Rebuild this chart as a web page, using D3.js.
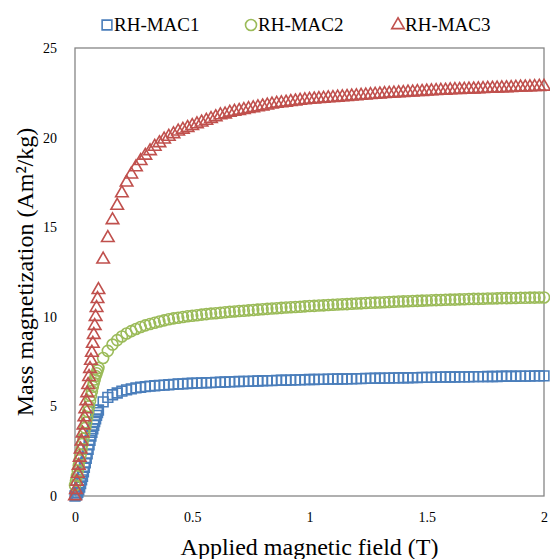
<!DOCTYPE html>
<html>
<head>
<meta charset="utf-8">
<script src="https://cdn.jsdelivr.net/npm/d3@7"></script>
<style>
  body { margin: 0; background: #fff; }
</style>
</head>
<body>
<div class="container"></div>
<script>
// applied field (T), shared by all three samples
var field = [
  0, 0.004, 0.008, 0.012, 0.016, 0.02, 0.024, 0.028, 0.032, 0.036, 0.04, 0.044, 0.048,
  0.052, 0.056, 0.06, 0.064, 0.068, 0.072, 0.076, 0.08, 0.084, 0.088, 0.092, 0.096, 0.1,
  0.12, 0.14, 0.16, 0.18, 0.2, 0.22, 0.24, 0.26, 0.28, 0.3,
  0.32, 0.34, 0.36, 0.38, 0.4, 0.42, 0.44, 0.46, 0.48, 0.5,
  0.52, 0.54, 0.56, 0.58, 0.6, 0.62, 0.64, 0.66, 0.68, 0.7,
  0.72, 0.74, 0.76, 0.78, 0.8, 0.82, 0.84, 0.86, 0.88, 0.9,
  0.92, 0.94, 0.96, 0.98, 1.0,
  1.02, 1.04, 1.06, 1.08, 1.1, 1.12, 1.14, 1.16, 1.18, 1.2,
  1.22, 1.24, 1.26, 1.28, 1.3, 1.32, 1.34, 1.36, 1.38, 1.4,
  1.42, 1.44, 1.46, 1.48, 1.5, 1.52, 1.54, 1.56, 1.58, 1.6,
  1.62, 1.64, 1.66, 1.68, 1.7, 1.72, 1.74, 1.76, 1.78, 1.8,
  1.82, 1.84, 1.86, 1.88, 1.9, 1.92, 1.94, 1.96, 1.98, 2.0
];

var mac1 = [
  0, 0.05, 0.1, 0.2, 0.35, 0.5, 0.7, 0.9, 1.1, 1.35, 1.6, 1.85, 2.1,
  2.35, 2.6, 2.85, 3.1, 3.35, 3.55, 3.75, 3.95, 4.15, 4.3, 4.5, 4.65, 4.8,
  5.25, 5.5, 5.65, 5.75, 5.85, 5.92, 5.98, 6.03, 6.07, 6.1,
  6.13, 6.15, 6.17, 6.19, 6.21, 6.23, 6.25, 6.26, 6.28, 6.29,
  6.3, 6.31, 6.32, 6.33, 6.34, 6.35, 6.36, 6.37, 6.38, 6.39,
  6.4, 6.4, 6.41, 6.42, 6.43, 6.44, 6.44, 6.45, 6.46, 6.46,
  6.47, 6.48, 6.48, 6.49, 6.5,
  6.5, 6.51, 6.51, 6.52, 6.52, 6.53, 6.53, 6.54, 6.54, 6.55,
  6.55, 6.56, 6.56, 6.57, 6.57, 6.58, 6.58, 6.59, 6.59, 6.6,
  6.6, 6.61, 6.61, 6.62, 6.62, 6.62, 6.63, 6.63, 6.64, 6.64,
  6.64, 6.65, 6.65, 6.65, 6.66, 6.66, 6.66, 6.67, 6.67, 6.67,
  6.68, 6.68, 6.68, 6.68, 6.69, 6.69, 6.69, 6.7, 6.7, 6.7
];

var mac2 = [
  0.6, 0.85, 1.1, 1.4, 1.7, 2.0, 2.3, 2.6, 2.9, 3.2, 3.5, 3.8, 4.1,
  4.4, 4.7, 5.0, 5.3, 5.6, 5.85, 6.1, 6.3, 6.5, 6.7, 6.85, 7.0, 7.15,
  7.7, 8.1, 8.45, 8.7, 8.9, 9.07, 9.2, 9.32, 9.43, 9.52,
  9.6, 9.67, 9.74, 9.8, 9.86, 9.91, 9.95, 9.99, 10.03, 10.06,
  10.09, 10.12, 10.15, 10.18, 10.2, 10.23, 10.25, 10.28, 10.3, 10.32,
  10.34, 10.36, 10.38, 10.4, 10.42, 10.44, 10.46, 10.48, 10.5, 10.52,
  10.53, 10.55, 10.56, 10.58, 10.6,
  10.61, 10.63, 10.64, 10.66, 10.67, 10.69, 10.7, 10.71, 10.73, 10.74,
  10.75, 10.77, 10.78, 10.79, 10.8, 10.81, 10.83, 10.84, 10.85, 10.86,
  10.87, 10.88, 10.89, 10.9, 10.91, 10.92, 10.93, 10.94, 10.95, 10.96,
  10.96, 10.97, 10.98, 10.99, 11.0, 11.0, 11.01, 11.02, 11.02, 11.03,
  11.04, 11.04, 11.05, 11.05, 11.06, 11.06, 11.07, 11.07, 11.08, 11.08
];

var mac3 = [
  0, 0.35, 0.8, 1.25, 1.7, 2.15, 2.6, 3.05, 3.5, 3.95, 4.4, 4.85, 5.3,
  5.75, 6.2, 6.65, 7.1, 7.55, 8.0, 8.5, 9.0, 9.5, 10.0, 10.5, 11.0, 11.5,
  13.2, 14.4, 15.4, 16.2, 16.9, 17.5, 17.95, 18.35, 18.7, 19.0,
  19.25, 19.5, 19.7, 19.9, 20.05, 20.2, 20.35, 20.45, 20.55, 20.65,
  20.75, 20.85, 20.95, 21.05, 21.15, 21.25, 21.3, 21.4, 21.45, 21.5,
  21.55, 21.6, 21.65, 21.7, 21.75, 21.8, 21.85, 21.9, 21.93, 21.96,
  22.0, 22.03, 22.06, 22.09, 22.12,
  22.14, 22.16, 22.18, 22.2, 22.22, 22.24, 22.26, 22.28, 22.3, 22.32,
  22.34, 22.36, 22.38, 22.4, 22.42, 22.44, 22.46, 22.47, 22.49, 22.5,
  22.52, 22.53, 22.55, 22.56, 22.58, 22.59, 22.61, 22.62, 22.63, 22.65,
  22.66, 22.67, 22.68, 22.69, 22.7, 22.71, 22.72, 22.73, 22.74, 22.75,
  22.76, 22.77, 22.78, 22.79, 22.8, 22.81, 22.82, 22.83, 22.84, 22.85
];

var seriesNames = ["RH-MAC1", "RH-MAC2", "RH-MAC3"];
var xTicks = [0, 0.5, 1, 1.5, 2];
var yTicks = [0, 5, 10, 15, 20, 25];

var svgWidth = 550;
var svgHeight = 559;
var serif = "Liberation Serif, Times New Roman, Times, serif";

var chartMargin = {
    top: 48,
    bottom: 63,
    left: 75,
    right: 6
};

var chartWidth = svgWidth - (chartMargin.left + chartMargin.right);
var chartHeight = svgHeight - (chartMargin.top + chartMargin.bottom);

var colors = ["#4a7ebb", "#9bbb59", "#c0504d"];
var symbols = [d3.symbolSquare, d3.symbolCircle, d3.symbolTriangle];
var symbolSizes = [95, 95, 68];

var svg = d3
    .select(".container")
    .append("svg")
    .attr("height", svgHeight)
    .attr("width", svgWidth)
    .attr("font-family", serif);

var chartGroup = svg.append("g")
    .attr("transform", `translate(${chartMargin.left}, ${chartMargin.top})`);

var xScale = d3.scaleLinear()
    .domain([0, 2])
    .range([0, chartWidth]);

var yScale = d3.scaleLinear()
    .domain([0, 25])
    .range([chartHeight, 0]);

var bottomAxis = d3.axisBottom(xScale)
    .tickValues(xTicks)
    .tickSize(0)
    .tickPadding(16)
    .tickFormat(d3.format("~g"));
var leftAxis = d3.axisLeft(yScale)
    .tickValues(yTicks)
    .tickSize(0)
    .tickPadding(18);

var xAxisG = chartGroup.append("g")
    .attr("transform", `translate(0, ${chartHeight})`)
    .call(bottomAxis);
var yAxisG = chartGroup.append("g")
    .call(leftAxis);

[xAxisG, yAxisG].forEach(function(g) {
    g.attr("font-family", serif).attr("font-size", 14);
    g.select(".domain").remove();
    g.selectAll("text").attr("fill", "#000");
});

// plot frame
chartGroup.append("rect")
    .attr("x", 0)
    .attr("y", 0)
    .attr("width", chartWidth)
    .attr("height", chartHeight)
    .attr("fill", "none")
    .attr("stroke", "#868686")
    .attr("stroke-width", 1.3);

var allSeries = [mac1, mac2, mac3];

allSeries.forEach(function(values, s) {
    var points = field.map((h, i) => ({ h: h, m: values[i] }));
    chartGroup.append("g")
        .selectAll("path")
        .data(points)
        .enter()
        .append("path")
        .attr("d", d3.symbol().type(symbols[s]).size(symbolSizes[s]))
        .attr("transform", d => `translate(${xScale(d.h)}, ${yScale(d.m)})`)
        .attr("fill", "none")
        .attr("stroke", colors[s])
        .attr("stroke-width", 1.6);
});

// legend
var legendX = [107, 251, 398];
var legend = svg.append("g");
seriesNames.forEach(function(name, s) {
    legend.append("path")
        .attr("d", d3.symbol().type(symbols[s]).size(symbolSizes[s]))
        .attr("transform", `translate(${legendX[s]}, 25)`)
        .attr("fill", "none")
        .attr("stroke", colors[s])
        .attr("stroke-width", 1.6);
    legend.append("text")
        .attr("x", legendX[s] + 7)
        .attr("y", 31)
        .attr("font-size", 19)
        .text(name);
});

// axis titles
svg.append("text")
    .attr("x", chartMargin.left + chartWidth / 2)
    .attr("y", 555)
    .attr("text-anchor", "middle")
    .attr("font-size", 24)
    .text("Applied magnetic field (T)");

svg.append("text")
    .attr("transform", `translate(33, ${chartMargin.top + chartHeight / 2}) rotate(-90)`)
    .attr("text-anchor", "middle")
    .attr("font-size", 24)
    .text("Mass magnetization (Am²/kg)");
</script>
</body>
</html>
